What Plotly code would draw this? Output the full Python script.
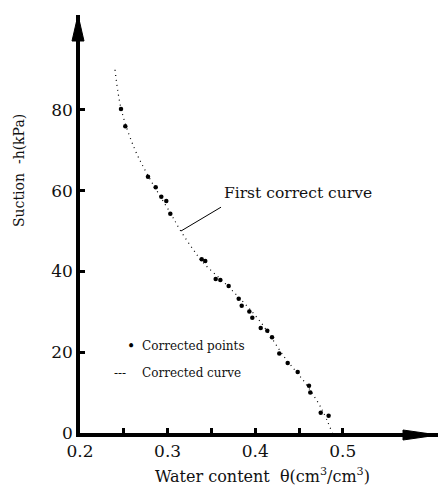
import plotly.graph_objects as go

# ---- data ----
theta_points = [0.2468, 0.2517, 0.2776, 0.2864, 0.2928, 0.2985, 0.3031, 0.3389, 0.3430,
                0.3549, 0.3602, 0.3697, 0.3812, 0.3846, 0.3933, 0.3967, 0.4063, 0.4138,
                0.4192, 0.4275, 0.4371, 0.4485, 0.4614, 0.4629, 0.4748, 0.4838]
suction_points = [80.2, 75.9, 63.4, 60.8, 58.5, 57.4, 54.3, 43.0, 42.6,
                  38.1, 37.9, 36.4, 33.2, 31.5, 30.1, 28.5, 26.0, 25.3,
                  23.7, 19.7, 17.3, 15.1, 11.7, 10.0, 5.0, 4.3]

theta_curve = [0.240, 0.247, 0.262, 0.278, 0.303, 0.315, 0.328, 0.340, 0.371,
               0.406, 0.434, 0.457, 0.476, 0.488]
suction_curve = [89.9, 80.2, 70.5, 63.6, 54.5, 50.0, 45.8, 42.3, 35.9,
                 27.5, 18.6, 12.4, 5.9, 0.0]

x_tickvals = [0.2, 0.3, 0.4, 0.5]
x_ticktext = ["0.2", "0.3", "0.4", "0.5"]
x_minorvals = [0.25, 0.35, 0.45]
y_tickvals = [0, 20, 40, 60, 80]
y_ticktext = ["0", "20", "40", "60", "80"]

annot_from = (0.3153, 50.0)
annot_to = (0.361, 55.9)

# ---- layout geometry ----
W, H = 438, 490
ML, MR, MT, MB = 80, 0, 15, 57
PW, PH = W - ML - MR, H - MT - MB
X_RANGE = [0.2, 0.2 + PW / 876]
Y_RANGE = [0, PH / 4.04]

def px(x):
    return (x - ML) / PW

def py(y):
    return (H - MB - y) / PH

FONT = "DejaVu Serif"

fig = go.Figure()
fig.add_trace(go.Scatter(x=theta_curve, y=suction_curve, mode="lines",
                         line=dict(color="black", width=1.2, dash="1px,4px", shape="spline"),
                         name="Corrected curve", showlegend=False, hoverinfo="skip"))
fig.add_trace(go.Scatter(x=theta_points, y=suction_points, mode="markers",
                         marker=dict(color="black", size=4.5),
                         name="Corrected points", showlegend=False))

axis_common = dict(showgrid=False, zeroline=False, showline=True, linecolor="black",
                   linewidth=3.5, ticks="inside", tickcolor="black", tickwidth=2.5,
                   ticklen=5, tickfont=dict(family=FONT, size=17, color="#111"),
                   fixedrange=True)

fig.update_xaxes(range=X_RANGE, tickmode="array", tickvals=x_tickvals, ticktext=x_ticktext,
                 minor=dict(tickmode="array", tickvals=x_minorvals, ticks="inside",
                            ticklen=5, tickwidth=2.5, tickcolor="black"),
                 **axis_common)
fig.update_yaxes(range=Y_RANGE, tickmode="array", tickvals=y_tickvals, ticktext=y_ticktext,
                 **axis_common)

shapes = []
shapes.append(dict(type="path", xref="paper", yref="paper",
                   path=f"M {px(78)} {py(15)} L {px(72)} {py(41)} L {px(84)} {py(41)} Z",
                   fillcolor="black", line=dict(color="black", width=1)))
shapes.append(dict(type="path", xref="paper", yref="paper",
                   path=f"M {px(438)} {py(435)} L {px(403)} {py(430)} L {px(403)} {py(440)} Z",
                   fillcolor="black", line=dict(color="black", width=1)))
shapes.append(dict(type="line", xref="x", yref="y",
                   x0=annot_from[0], y0=annot_from[1], x1=annot_to[0], y1=annot_to[1],
                   line=dict(color="black", width=1)))

annotations = [
    dict(text="First correct curve", x=annot_to[0] + 0.001, y=annot_to[1] + 3.5, xref="x", yref="y",
         xanchor="left", yanchor="middle", showarrow=False,
         font=dict(family=FONT, size=15.5, color="#111")),
    dict(text="Water content  θ(cm<sup>3</sup>/cm<sup>3</sup>)", x=px(262), y=py(475),
         xref="paper", yref="paper", xanchor="center", yanchor="middle", showarrow=False,
         font=dict(family=FONT, size=16, color="#111")),
    dict(text="Suction  -h(kPa)", x=px(19), y=py(171), xref="paper", yref="paper",
         xanchor="center", yanchor="middle", textangle=-90, showarrow=False,
         font=dict(family=FONT, size=14, color="#111")),
    dict(text="•", x=px(131), y=py(346), xref="paper", yref="paper",
         xanchor="center", yanchor="middle", showarrow=False,
         font=dict(family=FONT, size=14, color="black")),
    dict(text="Corrected points", x=px(140), y=py(346), xref="paper", yref="paper",
         xanchor="left", yanchor="middle", showarrow=False,
         font=dict(family=FONT, size=12, color="#111")),
    dict(text="---", x=px(120), y=py(373), xref="paper", yref="paper",
         xanchor="center", yanchor="middle", showarrow=False,
         font=dict(family=FONT, size=12, color="#111")),
    dict(text="Corrected curve", x=px(140), y=py(373), xref="paper", yref="paper",
         xanchor="left", yanchor="middle", showarrow=False,
         font=dict(family=FONT, size=12, color="#111")),
]

fig.update_layout(width=W, height=H, margin=dict(l=ML, r=MR, t=MT, b=MB, pad=0),
                  paper_bgcolor="white", plot_bgcolor="white",
                  shapes=shapes, annotations=annotations, showlegend=False,
                  font=dict(family=FONT, color="#111"))

fig.write_html("out.html")
